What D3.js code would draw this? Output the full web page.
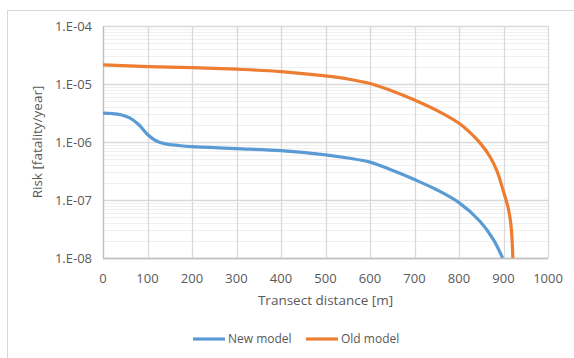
<!DOCTYPE html>
<meta charset="utf-8">
<script src="https://d3js.org/d3.v7.min.js"></script>
<style>
  body { margin: 0; background: #fff; }
  text { font-family: "Open Sans", "Liberation Sans", sans-serif; fill: #595959; }
</style>
<div id="chart"></div>
<script>
  // values
  var newDist = [0, 20, 40, 60, 80, 100, 120, 140, 170, 200, 300, 400, 500, 550, 600, 650, 700, 750, 800, 847, 877, 898];
  var newRisk = [3.15e-6, 3.1e-6, 2.95e-6, 2.6e-6, 2.0e-6, 1.35e-6, 1.04e-6, 9.3e-7, 8.7e-7, 8.3e-7, 7.7e-7, 7.1e-7, 6.0e-7, 5.3e-7, 4.5e-7, 3.25e-7, 2.25e-7, 1.5e-7, 9.0e-8, 4.3e-8, 2.1e-8, 1.0e-8];
  var oldDist = [0, 100, 200, 300, 400, 500, 550, 600, 650, 700, 750, 800, 825, 850, 870, 885, 900, 910, 915, 918, 921];
  var oldRisk = [2.13e-5, 2.0e-5, 1.92e-5, 1.8e-5, 1.64e-5, 1.38e-5, 1.22e-5, 1.02e-5, 7.6e-6, 5.3e-6, 3.5e-6, 2.1e-6, 1.45e-6, 9.1e-7, 5.5e-7, 3.2e-7, 1.4e-7, 7.6e-8, 4.7e-8, 2.95e-8, 1.0e-8];
  var xTicks = [0, 100, 200, 300, 400, 500, 600, 700, 800, 900, 1000];
  var yTicks = [1e-4, 1e-5, 1e-6, 1e-7, 1e-8];
  var seriesNames = ["New model", "Old model"];
  var colors = ["#5b9bd5", "#ed7d31"];

  var W = 574, H = 358;
  var margin = {top: 26, right: 26, bottom: 100, left: 103};
  var width = 548 - margin.left, height = 258 - margin.top;

  var svg = d3.select("#chart").append("svg")
    .attr("width", W).attr("height", H);

  // outer chart frame
  svg.append("rect")
    .attr("x", 7.5).attr("y", 10.5).attr("width", 620).attr("height", 420)
    .attr("fill", "none").attr("stroke", "#d9d9d9");

  var g = svg.append("g").attr("transform", "translate(" + margin.left + "," + margin.top + ")");

  var x = d3.scaleLinear().domain([0, 1000]).range([0, width]);
  var y = d3.scaleLog().domain([1e-8, 1e-4]).range([height, 0]);

  // minor gridlines
  var minors = [];
  for (var e = -8; e < -4; e++) {
    for (var m = 2; m <= 9; m++) minors.push(m * Math.pow(10, e));
  }
  g.selectAll(".minor").data(minors).enter().append("line")
    .attr("x1", 0).attr("x2", width)
    .attr("y1", function(d) { return Math.round(y(d)) + 0.5; })
    .attr("y2", function(d) { return Math.round(y(d)) + 0.5; })
    .attr("stroke", "#f0f0f0");

  // major gridlines
  g.selectAll(".hmajor").data(yTicks).enter().append("line")
    .attr("x1", 0).attr("x2", width)
    .attr("y1", function(d) { return Math.round(y(d)) + 0.5; })
    .attr("y2", function(d) { return Math.round(y(d)) + 0.5; })
    .attr("stroke", "#d9d9d9").attr("stroke-width", 1.3);
  g.selectAll(".vmajor").data(xTicks).enter().append("line")
    .attr("x1", function(d) { return Math.round(x(d)) + 0.5; })
    .attr("x2", function(d) { return Math.round(x(d)) + 0.5; })
    .attr("y1", 0).attr("y2", height)
    .attr("stroke", "#d9d9d9").attr("stroke-width", 1.3);

  // axis lines
  g.append("line").attr("x1", 0.5).attr("x2", 0.5).attr("y1", 0).attr("y2", height)
    .attr("stroke", "#bfbfbf").attr("stroke-width", 1.3);
  g.append("line").attr("x1", 0).attr("x2", width).attr("y1", height + 0.5).attr("y2", height + 0.5)
    .attr("stroke", "#bfbfbf").attr("stroke-width", 1.3);

  // tick labels
  g.selectAll(".ylab").data(yTicks).enter().append("text")
    .attr("x", -11).attr("y", function(d) { return y(d); })
    .attr("dy", "0.35em").attr("text-anchor", "end")
    .style("font-size", "13px")
    .text(function(d) { return "1.E-" + d3.format("02d")(-Math.round(Math.log10(d))); });
  g.selectAll(".xlab").data(xTicks).enter().append("text")
    .attr("x", function(d) { return x(d); }).attr("y", height + 20)
    .attr("dy", "0.35em").attr("text-anchor", "middle")
    .style("font-size", "13px")
    .text(function(d) { return d; });

  // axis titles
  g.append("text")
    .attr("x", width / 2).attr("y", height + 42)
    .attr("dy", "0.35em").attr("text-anchor", "middle")
    .style("font-size", "13.5px")
    .text("Transect distance [m]");
  g.append("text")
    .attr("transform", "translate(-66," + (height / 2) + ") rotate(-90)")
    .attr("dy", "0.35em").attr("text-anchor", "middle")
    .style("font-size", "13.5px")
    .text("Risk [fatality/year]");

  // lines
  g.append("clipPath").attr("id", "clip").append("rect")
    .attr("x", 0).attr("y", -5).attr("width", width).attr("height", height + 5);

  var line = d3.line()
    .x(function(d) { return x(d[0]); })
    .y(function(d) { return y(d[1]); })
    .curve(d3.curveCatmullRom.alpha(0.5));

  var series = [d3.zip(newDist, newRisk), d3.zip(oldDist, oldRisk)];
  g.selectAll(".series").data(series).enter().append("path")
    .attr("clip-path", "url(#clip)")
    .attr("d", line)
    .attr("fill", "none")
    .attr("stroke", function(d, i) { return colors[i]; })
    .attr("stroke-width", 3.2)
    .attr("stroke-linejoin", "round");

  // legend
  var legendX = [193, 306];
  var leg = svg.selectAll(".legend").data(seriesNames).enter().append("g")
    .attr("transform", function(d, i) { return "translate(" + legendX[i] + ",339)"; });
  leg.append("line").attr("x1", 0).attr("x2", 32).attr("y1", 0).attr("y2", 0)
    .attr("stroke", function(d, i) { return colors[i]; }).attr("stroke-width", 3.2);
  leg.append("text").attr("x", 35).attr("dy", "0.35em")
    .style("font-size", "12px")
    .text(function(d) { return d; });
</script>
